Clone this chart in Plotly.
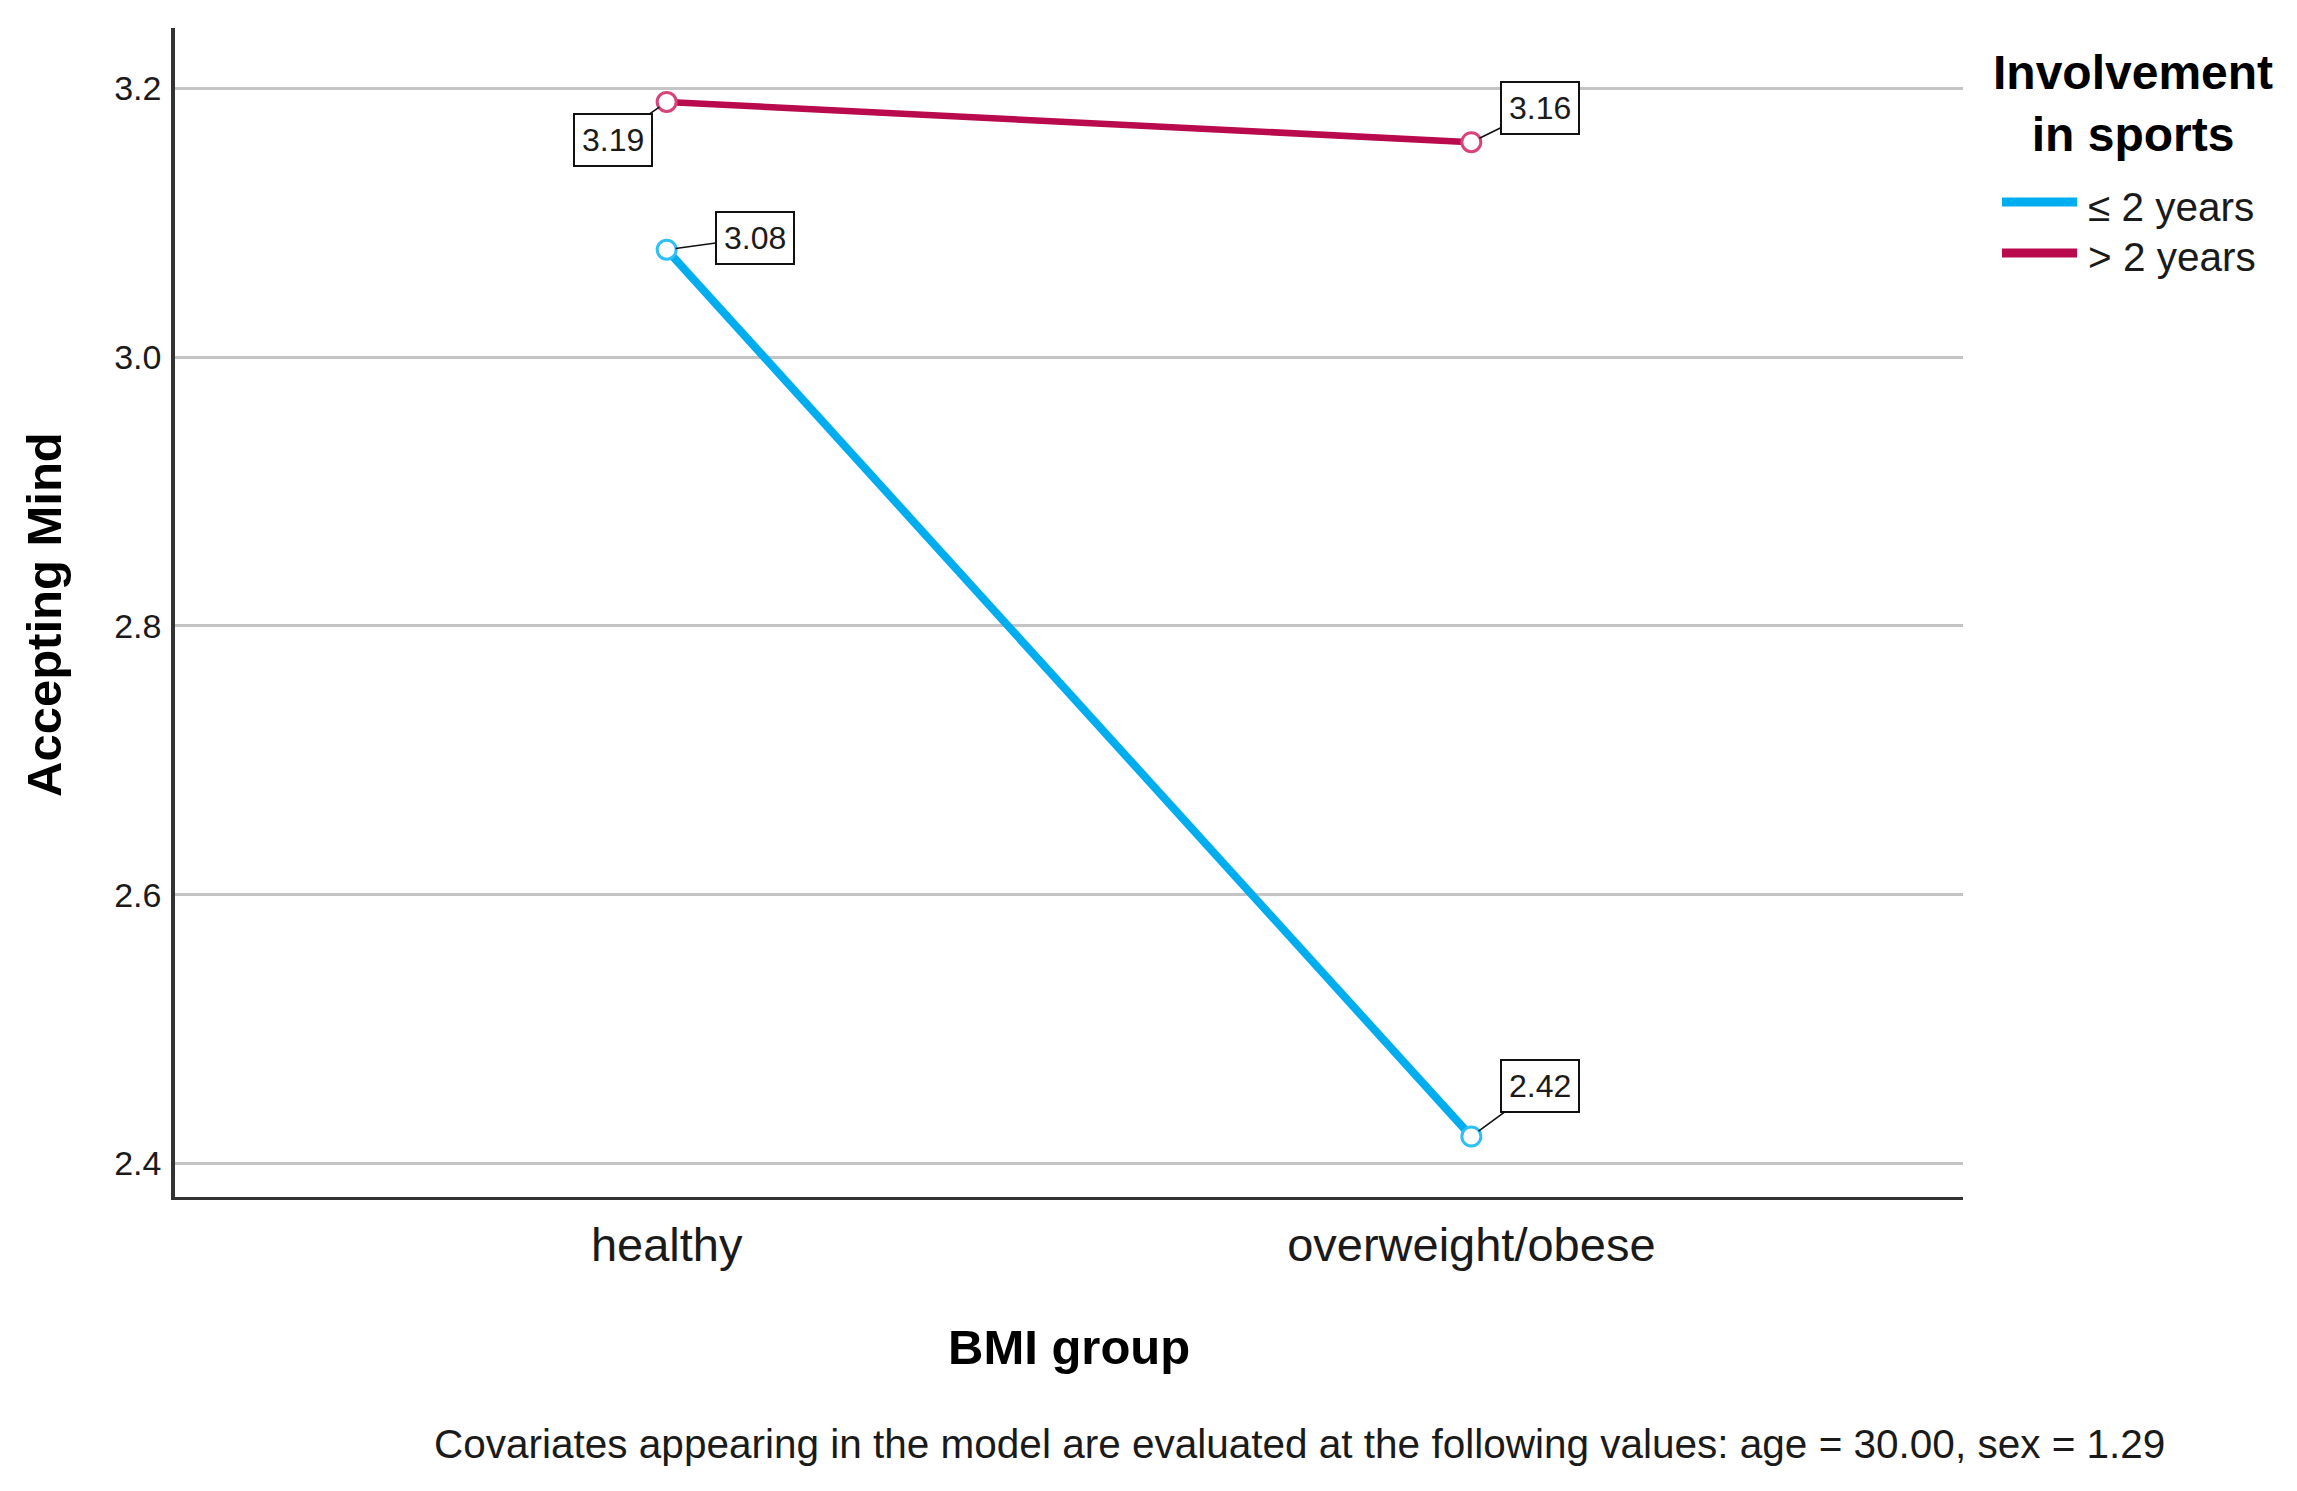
import plotly.graph_objects as go

# ---- data ----
categories = ["healthy", "overweight/obese"]
series_names = ["≤ 2 years", "> 2 years"]
le2_values = [3.08, 2.42]
gt2_values = [3.19, 3.16]
y_ticks = [2.4, 2.6, 2.8, 3.0, 3.2]
y_ticklabels = ["2.4", "2.6", "2.8", "3.0", "3.2"]

# ---- layout geometry (pixels) ----
W, H = 2297, 1491
L, R, T, B = 175, 1963, 28, 1197
PW, PH = R - L, B - T


def px_x(px):
    return (px - L) / PW


def px_y(py):
    return (B - py) / PH


FONT = "Liberation Sans, Arial, sans-serif"
BLUE = "#00AEEF"
BLUE_MK = "#2CC0F6"
RED = "#B80A4C"
RED_MK = "#D8437A"
TXT = "#1a1a1a"

fig = go.Figure()

series = [
    (series_names[0], le2_values, BLUE, BLUE_MK, 8),
    (series_names[1], gt2_values, RED, RED_MK, 6.5),
]
for name, vals, col, mk, lw in series:
    fig.add_trace(go.Scatter(
        x=categories, y=vals, name=name, mode="lines+markers",
        line=dict(color=col, width=lw),
        marker=dict(symbol="circle", size=19, color="white",
                    line=dict(color=mk, width=3)),
        showlegend=False, cliponaxis=False,
    ))

# value label offsets (pixels, box centre relative to point)
label_offsets = {
    (0, 0): (88, -12),
    (0, 1): (69, -51),
    (1, 0): (-54, 38),
    (1, 1): (69, -34),
}
annotations = []
for si, (name, vals, col, mk, lw) in enumerate(series):
    for ci, v in enumerate(vals):
        ax, ay = label_offsets[(si, ci)]
        annotations.append(dict(
            x=categories[ci], y=v, xref="x", yref="y",
            text=f"{v:.2f}", showarrow=True, arrowhead=0, arrowwidth=1.6,
            arrowcolor="#111", ax=ax, ay=ay, standoff=9,
            font=dict(family=FONT, size=32, color=TXT),
            bgcolor="white", bordercolor="#111", borderwidth=2, borderpad=7,
        ))

# axis titles
annotations.append(dict(
    x=px_x(1069), y=px_y(1347), xref="paper", yref="paper",
    text="<b>BMI group</b>", showarrow=False, xanchor="center", yanchor="middle",
    font=dict(family=FONT, size=49, color="black"),
))
annotations.append(dict(
    x=px_x(44), y=px_y(615), xref="paper", yref="paper",
    text="<b>Accepting Mind</b>", showarrow=False, textangle=-90,
    xanchor="center", yanchor="middle",
    font=dict(family=FONT, size=49, color="black"),
))
# footnote
annotations.append(dict(
    x=px_x(1299), y=px_y(1444), xref="paper", yref="paper",
    text="Covariates appearing in the model are evaluated at the following values: age = 30.00, sex = 1.29",
    showarrow=False, xanchor="center", yanchor="middle",
    font=dict(family=FONT, size=40.5, color=TXT),
))
# legend title (one wrapped text)
annotations.append(dict(
    x=px_x(2133), y=px_y(104), xref="paper", yref="paper",
    text="<b>Involvement<br>in sports</b>", showarrow=False,
    xanchor="center", yanchor="middle", align="center",
    font=dict(family=FONT, size=48, color="black"),
))

# legend entries
shapes = []
legend_rows = [(202, 207, BLUE), (253, 257, RED)]
for (ly, ty, col), name in zip(legend_rows, series_names):
    shapes.append(dict(
        type="line", xref="paper", yref="paper",
        x0=px_x(2002), x1=px_x(2077), y0=px_y(ly), y1=px_y(ly),
        line=dict(color=col, width=9),
    ))
    annotations.append(dict(
        x=px_x(2086), y=px_y(ty), xref="paper", yref="paper",
        text=name, showarrow=False, xanchor="left", yanchor="middle",
        font=dict(family=FONT, size=40.5, color=TXT),
    ))

fig.update_layout(
    width=W, height=H,
    margin=dict(l=L, r=W - R, t=T, b=H - B),
    paper_bgcolor="white", plot_bgcolor="white",
    font=dict(family=FONT, color=TXT),
    showlegend=False,
    annotations=annotations, shapes=shapes,
)
fig.update_xaxes(
    type="category", range=[-0.611, 1.611],
    showgrid=False, showline=True, linecolor="#333", linewidth=3,
    ticks="", tickfont=dict(family=FONT, size=47, color=TXT),
    ticklabelstandoff=5, zeroline=False,
)
fig.update_yaxes(
    range=[2.375, 3.245], tickvals=y_ticks, ticktext=y_ticklabels,
    showgrid=True, gridcolor="#C4C4C4", gridwidth=2.5,
    showline=True, linecolor="#333", linewidth=3.5,
    ticks="", tickfont=dict(family=FONT, size=34, color=TXT),
    ticklabelstandoff=3, zeroline=False,
)

fig.write_html("out.html")
